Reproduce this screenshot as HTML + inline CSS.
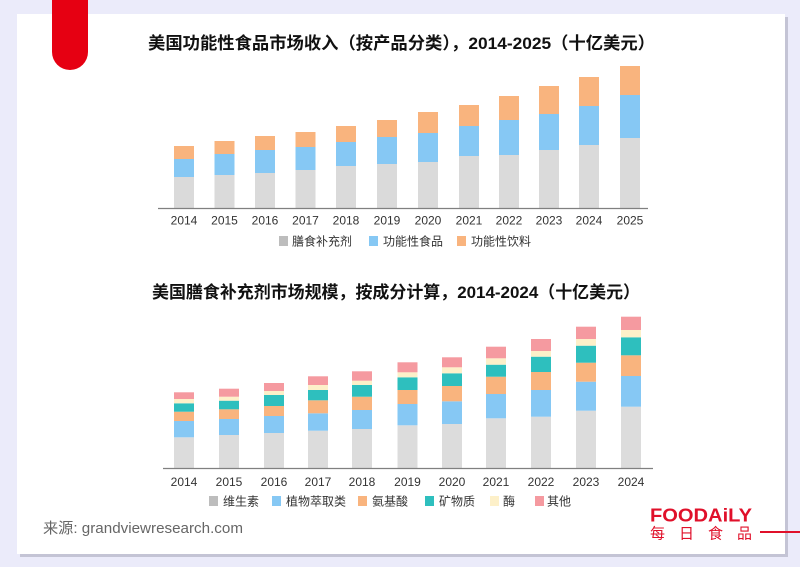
<!DOCTYPE html>
<html><head><meta charset="utf-8">
<style>
html,body{margin:0;padding:0;}
body{width:800px;height:567px;background:#ebebfa;position:relative;overflow:hidden;font-family:"Liberation Sans","Noto Sans CJK SC",sans-serif;}
</style></head>
<body>
<svg width="800" height="567" viewBox="0 0 800 567" xmlns="http://www.w3.org/2000/svg" style="position:absolute;left:0;top:0">
<rect x="0" y="0" width="800" height="567" fill="#ebebfa"/>
<rect x="20" y="17" width="768" height="540" fill="#b4b4c4" opacity="0.7"/>
<rect x="17" y="14" width="768" height="540" fill="#ffffff"/>
<path d="M52 0 H88 V52 A18 18 0 0 1 52 52 Z" fill="#e60012"/>

<g font-family="'Liberation Sans','Noto Sans CJK SC',sans-serif">
<text x="148" y="49" font-size="17" font-weight="bold" fill="#111" textLength="507" lengthAdjust="spacingAndGlyphs">美国功能性食品市场收入（按产品分类），2014-2025（十亿美元）</text>
<text x="152" y="298" font-size="17" font-weight="bold" fill="#111" textLength="488" lengthAdjust="spacingAndGlyphs">美国膳食补充剂市场规模，按成分计算，2014-2024（十亿美元）</text>
</g>

<g id="c1"></g>
<g id="c2"></g>

<!-- chart 1 -->
<g>
<!-- 2014 -->
<rect x="174" y="177" width="20" height="31" fill="#dadada"/><rect x="174" y="159" width="20" height="18" fill="#86c8f4"/><rect x="174" y="146" width="20" height="13" fill="#f9b47e"/>
<rect x="214.5" y="175" width="20" height="33" fill="#dadada"/><rect x="214.5" y="154" width="20" height="21" fill="#86c8f4"/><rect x="214.5" y="141" width="20" height="13" fill="#f9b47e"/>
<rect x="255" y="173" width="20" height="35" fill="#dadada"/><rect x="255" y="150" width="20" height="23" fill="#86c8f4"/><rect x="255" y="136" width="20" height="14" fill="#f9b47e"/>
<rect x="295.5" y="170" width="20" height="38" fill="#dadada"/><rect x="295.5" y="147" width="20" height="23" fill="#86c8f4"/><rect x="295.5" y="132" width="20" height="15" fill="#f9b47e"/>
<rect x="336" y="166" width="20" height="42" fill="#dadada"/><rect x="336" y="142" width="20" height="24" fill="#86c8f4"/><rect x="336" y="126" width="20" height="16" fill="#f9b47e"/>
<rect x="377" y="164" width="20" height="44" fill="#dadada"/><rect x="377" y="137" width="20" height="27" fill="#86c8f4"/><rect x="377" y="120" width="20" height="17" fill="#f9b47e"/>
<rect x="418" y="162" width="20" height="46" fill="#dadada"/><rect x="418" y="133" width="20" height="29" fill="#86c8f4"/><rect x="418" y="112" width="20" height="21" fill="#f9b47e"/>
<rect x="459" y="156" width="20" height="52" fill="#dadada"/><rect x="459" y="126" width="20" height="30" fill="#86c8f4"/><rect x="459" y="105" width="20" height="21" fill="#f9b47e"/>
<rect x="499" y="155" width="20" height="53" fill="#dadada"/><rect x="499" y="120" width="20" height="35" fill="#86c8f4"/><rect x="499" y="96" width="20" height="24" fill="#f9b47e"/>
<rect x="539" y="150" width="20" height="58" fill="#dadada"/><rect x="539" y="114" width="20" height="36" fill="#86c8f4"/><rect x="539" y="86" width="20" height="28" fill="#f9b47e"/>
<rect x="579" y="145" width="20" height="63" fill="#dadada"/><rect x="579" y="106" width="20" height="39" fill="#86c8f4"/><rect x="579" y="77" width="20" height="29" fill="#f9b47e"/>
<rect x="620" y="138" width="20" height="70" fill="#dadada"/><rect x="620" y="95" width="20" height="43" fill="#86c8f4"/><rect x="620" y="66" width="20" height="29" fill="#f9b47e"/>
<line x1="158" y1="208.5" x2="648" y2="208.5" stroke="#808080" stroke-width="1.3"/>
</g>
<g font-family="'Liberation Sans',sans-serif" font-size="12" fill="#333" text-anchor="middle">
<text x="184" y="224.5">2014</text><text x="224.5" y="224.5">2015</text><text x="265" y="224.5">2016</text><text x="305.5" y="224.5">2017</text><text x="346" y="224.5">2018</text><text x="387" y="224.5">2019</text><text x="428" y="224.5">2020</text><text x="469" y="224.5">2021</text><text x="509" y="224.5">2022</text><text x="549" y="224.5">2023</text><text x="589" y="224.5">2024</text><text x="630" y="224.5">2025</text>
</g>
<g font-family="'Liberation Sans','Noto Sans CJK SC',sans-serif" font-size="12" fill="#333">
<rect x="279" y="236" width="9" height="10" fill="#bdbdbd"/><text x="292" y="245.5">膳食补充剂</text>
<rect x="369" y="236" width="9" height="10" fill="#86c8f4"/><text x="383" y="245.5">功能性食品</text>
<rect x="457" y="236" width="9" height="10" fill="#f9b47e"/><text x="471" y="245.5">功能性饮料</text>
</g>

<!-- chart 2 -->
<g>
<!-- colors: gray #dcdcdc blue #86c8f4 orange #f9b47e teal #2ebfbe cream #fdf0c9 pink #f59aa0 -->
<g transform="translate(174,0)"><rect y="437.3" width="20" height="31" fill="#dcdcdc"/><rect y="421" width="20" height="16.3" fill="#86c8f4"/><rect y="411.7" width="20" height="9.3" fill="#f9b47e"/><rect y="403.3" width="20" height="8.4" fill="#2ebfbe"/><rect y="399" width="20" height="4.3" fill="#fdf0c9"/><rect y="392.3" width="20" height="6.7" fill="#f59aa0"/></g>
<g transform="translate(219,0)"><rect y="435" width="20" height="33.3" fill="#dcdcdc"/><rect y="419" width="20" height="16" fill="#86c8f4"/><rect y="409.3" width="20" height="9.7" fill="#f9b47e"/><rect y="400.7" width="20" height="8.6" fill="#2ebfbe"/><rect y="396.7" width="20" height="4" fill="#fdf0c9"/><rect y="388.7" width="20" height="8" fill="#f59aa0"/></g>
<g transform="translate(264,0)"><rect y="433" width="20" height="35.3" fill="#dcdcdc"/><rect y="416" width="20" height="17" fill="#86c8f4"/><rect y="406" width="20" height="10" fill="#f9b47e"/><rect y="395" width="20" height="11" fill="#2ebfbe"/><rect y="391" width="20" height="4" fill="#fdf0c9"/><rect y="383" width="20" height="8" fill="#f59aa0"/></g>
<g transform="translate(308,0)"><rect y="430.7" width="20" height="37.6" fill="#dcdcdc"/><rect y="413.3" width="20" height="17.4" fill="#86c8f4"/><rect y="400.3" width="20" height="13" fill="#f9b47e"/><rect y="390" width="20" height="10.3" fill="#2ebfbe"/><rect y="385" width="20" height="5" fill="#fdf0c9"/><rect y="376.3" width="20" height="8.7" fill="#f59aa0"/></g>
<g transform="translate(352,0)"><rect y="429" width="20" height="39.3" fill="#dcdcdc"/><rect y="410" width="20" height="19" fill="#86c8f4"/><rect y="396.7" width="20" height="13.3" fill="#f9b47e"/><rect y="385" width="20" height="11.7" fill="#2ebfbe"/><rect y="380.7" width="20" height="4.3" fill="#fdf0c9"/><rect y="371.3" width="20" height="9.4" fill="#f59aa0"/></g>
<g transform="translate(397.5,0)"><rect y="425.3" width="20" height="43" fill="#dcdcdc"/><rect y="404" width="20" height="21.3" fill="#86c8f4"/><rect y="390" width="20" height="14" fill="#f9b47e"/><rect y="377.3" width="20" height="12.7" fill="#2ebfbe"/><rect y="372.3" width="20" height="5" fill="#fdf0c9"/><rect y="362.3" width="20" height="10" fill="#f59aa0"/></g>
<g transform="translate(442,0)"><rect y="424" width="20" height="44.3" fill="#dcdcdc"/><rect y="401.3" width="20" height="22.7" fill="#86c8f4"/><rect y="386" width="20" height="15.3" fill="#f9b47e"/><rect y="373.3" width="20" height="12.7" fill="#2ebfbe"/><rect y="367.3" width="20" height="6" fill="#fdf0c9"/><rect y="357.3" width="20" height="10" fill="#f59aa0"/></g>
<g transform="translate(486,0)"><rect y="418.3" width="20" height="50" fill="#dcdcdc"/><rect y="394" width="20" height="24.3" fill="#86c8f4"/><rect y="376.7" width="20" height="17.3" fill="#f9b47e"/><rect y="364.7" width="20" height="12" fill="#2ebfbe"/><rect y="358.3" width="20" height="6.4" fill="#fdf0c9"/><rect y="346.7" width="20" height="11.6" fill="#f59aa0"/></g>
<g transform="translate(531,0)"><rect y="416.7" width="20" height="51.6" fill="#dcdcdc"/><rect y="390" width="20" height="26.7" fill="#86c8f4"/><rect y="372" width="20" height="18" fill="#f9b47e"/><rect y="356.7" width="20" height="15.3" fill="#2ebfbe"/><rect y="351" width="20" height="5.7" fill="#fdf0c9"/><rect y="339" width="20" height="12" fill="#f59aa0"/></g>
<g transform="translate(576,0)"><rect y="410.7" width="20" height="57.6" fill="#dcdcdc"/><rect y="381.7" width="20" height="29" fill="#86c8f4"/><rect y="362.7" width="20" height="19" fill="#f9b47e"/><rect y="345.7" width="20" height="17" fill="#2ebfbe"/><rect y="339" width="20" height="6.7" fill="#fdf0c9"/><rect y="326.7" width="20" height="12.3" fill="#f59aa0"/></g>
<g transform="translate(621,0)"><rect y="406.7" width="20" height="61.6" fill="#dcdcdc"/><rect y="376" width="20" height="30.7" fill="#86c8f4"/><rect y="355.3" width="20" height="20.7" fill="#f9b47e"/><rect y="337.3" width="20" height="18" fill="#2ebfbe"/><rect y="330" width="20" height="7.3" fill="#fdf0c9"/><rect y="316.7" width="20" height="13.3" fill="#f59aa0"/></g>
<line x1="163" y1="468.5" x2="653" y2="468.5" stroke="#808080" stroke-width="1.3"/>
</g>
<g font-family="'Liberation Sans',sans-serif" font-size="12" fill="#333" text-anchor="middle">
<text x="184" y="486">2014</text><text x="229" y="486">2015</text><text x="274" y="486">2016</text><text x="318" y="486">2017</text><text x="362" y="486">2018</text><text x="407.5" y="486">2019</text><text x="452" y="486">2020</text><text x="496" y="486">2021</text><text x="541" y="486">2022</text><text x="586" y="486">2023</text><text x="631" y="486">2024</text>
</g>
<g font-family="'Liberation Sans','Noto Sans CJK SC',sans-serif" font-size="12" fill="#333">
<rect x="209" y="496" width="9" height="10" fill="#bdbdbd"/><text x="223" y="505.5">维生素</text>
<rect x="272" y="496" width="9" height="10" fill="#86c8f4"/><text x="286" y="505.5">植物萃取类</text>
<rect x="358" y="496" width="9" height="10" fill="#f9b47e"/><text x="372" y="505.5">氨基酸</text>
<rect x="425" y="496" width="9" height="10" fill="#2ebfbe"/><text x="439" y="505.5">矿物质</text>
<rect x="490" y="496" width="9" height="10" fill="#fdf0c9"/><text x="503" y="505.5">酶</text>
<rect x="535" y="496" width="9" height="10" fill="#f59aa0"/><text x="547" y="505.5">其他</text>
</g>

<text x="43" y="533" font-family="'Liberation Sans','Noto Sans CJK SC',sans-serif" font-size="15" fill="#666" textLength="200" lengthAdjust="spacingAndGlyphs">来源: grandviewresearch.com</text>

<text x="650" y="521.5" font-family="'Liberation Sans',sans-serif" font-size="18" font-weight="bold" fill="#e0102a" textLength="102" lengthAdjust="spacingAndGlyphs">FOODAiLY</text>
<text x="650" y="538.5" font-family="'Noto Sans CJK SC',sans-serif" font-size="15" fill="#e0102a" textLength="102" lengthAdjust="spacing">每日食品</text>
<rect x="760" y="531" width="40" height="2" fill="#e0102a"/>
</svg>
</body></html>
